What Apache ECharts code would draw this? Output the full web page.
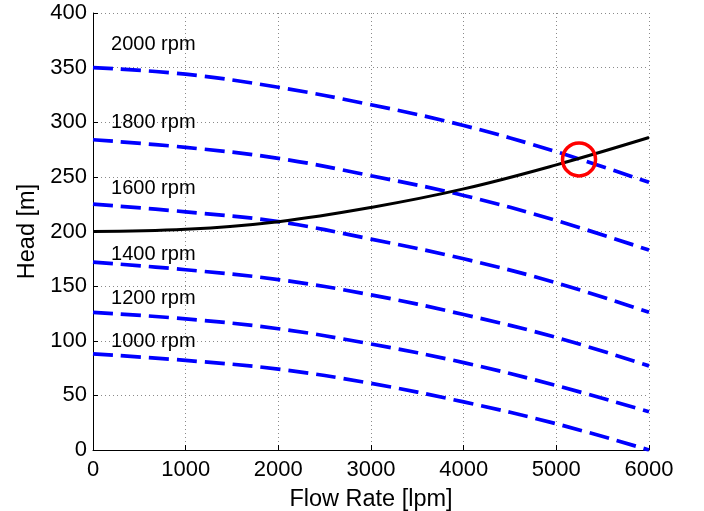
<!DOCTYPE html>
<html>
<head>
<meta charset="utf-8">
<script src="https://cdn.jsdelivr.net/npm/echarts@6/dist/echarts.min.js"></script>
<style>
  html, body { margin: 0; padding: 0; background: #fff; }
  #chart { width: 704px; height: 511px; }
</style>
</head>
<body>
<div id="chart"></div>
<script>
// flow rate samples [lpm]
const flow = [0, 1000, 2000, 3000, 4000, 5000, 6000]

// pump curves, head [m] per speed
const speeds = ['2000 rpm', '1800 rpm', '1600 rpm', '1400 rpm', '1200 rpm', '1000 rpm']
const head2000 = [350, 344, 332, 316, 297, 273, 245]
const head1800 = [284, 277, 267, 251, 233, 210, 183]
const head1600 = [225, 218, 209, 193, 175, 153, 126]
const head1400 = [172, 165, 156, 142, 124, 103, 77]
const head1200 = [126, 120, 111, 97, 80, 59, 35]
const head1000 = [88, 82, 74, 61, 44, 24, 0]

// system curve
const systemHead = [200, 202, 209, 222, 239, 261, 286]

// operating point
const opPoint = [5245, 266]

// speed labels anchor (flow, head)
const labelFlow = 195
const labelHead = [371, 300, 239, 179, 139, 99]

const pumpCurves = [head2000, head1800, head1600, head1400, head1200, head1000]
const font = 'Liberation Sans, Arial, Helvetica, sans-serif'

const toPairs = (ys) => flow.map((x, i) => [x, ys[i]])

const chart = echarts.init(document.getElementById('chart'))

const gridLine = {
    show: true,
    lineStyle: { color: '#8a8a8a', width: 1, type: [1, 3] }
}

const option = {
    backgroundColor: '#fff',
    animation: false,
    grid: { left: 93, right: 55, top: 13, bottom: 61, outerBoundsMode: 'none' },
    xAxis: {
        type: 'value',
        min: 0,
        max: 6000,
        interval: 1000,
        name: 'Flow Rate [lpm]',
        nameLocation: 'middle',
        nameGap: 38,
        nameTextStyle: { color: '#000', fontSize: 23.5, fontFamily: font },
        axisLine: { show: true, onZero: false, lineStyle: { color: '#000', width: 1 } },
        axisTick: { show: true, inside: true, length: 5, lineStyle: { color: '#000' } },
        axisLabel: { color: '#000', fontSize: 22, fontFamily: font, margin: 9, formatter: (v) => String(v) },
        splitLine: gridLine
    },
    yAxis: {
        type: 'value',
        min: 0,
        max: 400,
        interval: 50,
        name: 'Head [m]',
        nameLocation: 'middle',
        nameGap: 53,
        nameRotate: 90,
        nameTextStyle: { color: '#000', fontSize: 23.5, fontFamily: font },
        axisLine: { show: true, lineStyle: { color: '#000', width: 1 } },
        axisTick: { show: true, inside: true, length: 5, lineStyle: { color: '#000' } },
        axisLabel: { color: '#000', fontSize: 22, fontFamily: font, margin: 6, formatter: (v) => String(v) },
        splitLine: gridLine
    },
    series: [
        ...pumpCurves.map((ys, i) => ({
            name: speeds[i],
            type: 'line',
            smooth: 0.4,
            symbol: 'none',
            lineStyle: { color: '#0000ff', width: 3.7, type: [20, 8] },
            data: toPairs(ys),
            z: 2
        })),
        {
            name: 'system',
            type: 'line',
            smooth: 0.4,
            symbol: 'none',
            lineStyle: { color: '#000', width: 3 },
            data: toPairs(systemHead),
            z: 3
        },
        {
            name: 'operating point',
            type: 'scatter',
            symbol: 'circle',
            symbolSize: 33,
            itemStyle: { color: 'rgba(0,0,0,0)', borderColor: '#ff0000', borderWidth: 3.5, opacity: 1 },
            data: [opPoint],
            z: 4
        },
        {
            name: 'labels',
            type: 'scatter',
            symbolSize: 0,
            silent: true,
            itemStyle: { opacity: 1 },
            data: labelHead.map((h, i) => ({ value: [labelFlow, h], name: speeds[i] })),
            label: {
                show: true,
                position: 'right',
                distance: 0,
                formatter: (p) => p.name,
                color: '#000',
                fontSize: 20,
                fontFamily: font
            },
            z: 5
        }
    ]
}

chart.setOption(option)
</script>
</body>
</html>
